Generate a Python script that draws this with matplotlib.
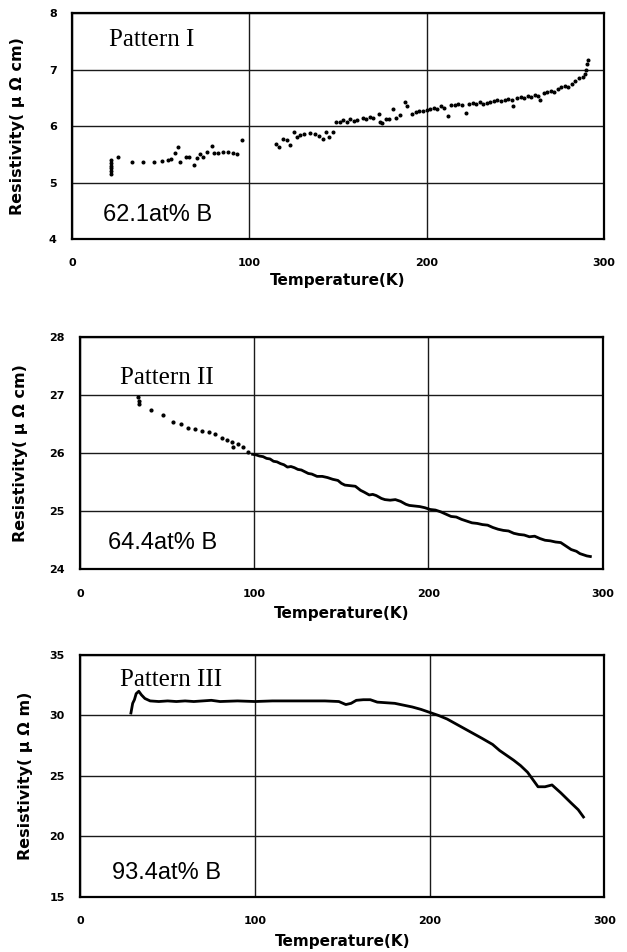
import matplotlib
matplotlib.use("Agg")
import matplotlib.pyplot as plt

# Pattern I : 62.1at% B  (scattered points)
t1 = [22, 22, 22, 22, 22, 22,
      26, 34, 40, 46, 51, 54, 56, 58, 59.5, 61, 64, 66, 69, 70.5, 72, 74, 76, 79, 80,
      82.5, 85, 88, 91, 93, 96,
      115, 117, 119, 121, 123, 125, 127, 128.5, 131, 134, 137, 139.5, 141.5, 143.5, 145,
      147, 149, 151, 153, 155, 157, 159, 161, 164, 166, 168, 170, 173, 174, 175, 177,
      179, 181, 183, 185, 188, 189, 191.5, 194, 196, 198, 200, 202, 204, 206, 208, 210,
      212, 214, 216, 218, 220, 222.5, 224, 226, 228, 230, 232, 234, 236, 238, 240, 242,
      244, 246, 248, 249, 251, 253, 255, 257, 259, 261, 263, 264, 266, 268, 270, 272,
      274, 276, 278, 280, 282, 284, 286, 288, 289.5, 290, 290.5, 291]
r1 = [5.15, 5.2, 5.25, 5.3, 5.35, 5.4,
      5.45, 5.36, 5.36, 5.36, 5.38, 5.40, 5.41, 5.52, 5.63, 5.37, 5.46, 5.46, 5.31, 5.43,
      5.50, 5.46, 5.55, 5.65, 5.52, 5.53, 5.55, 5.54, 5.52, 5.50, 5.75,
      5.69, 5.63, 5.78, 5.75, 5.66, 5.90, 5.81, 5.84, 5.86, 5.87, 5.86, 5.82, 5.78, 5.90,
      5.81, 5.90, 6.08, 6.07, 6.10, 6.08, 6.12, 6.09, 6.10, 6.15, 6.13, 6.16, 6.14, 6.22,
      6.08, 6.05, 6.12, 6.13, 6.30, 6.15, 6.20, 6.43, 6.35, 6.22, 6.25, 6.27, 6.26, 6.28,
      6.30, 6.33, 6.31, 6.35, 6.32, 6.18, 6.38, 6.37, 6.39, 6.38, 6.23, 6.40, 6.41, 6.40,
      6.42, 6.40, 6.41, 6.43, 6.45, 6.46, 6.45, 6.47, 6.48, 6.46, 6.35, 6.50, 6.51, 6.50,
      6.53, 6.52, 6.55, 6.54, 6.47, 6.58, 6.60, 6.62, 6.60, 6.65, 6.70, 6.72, 6.70, 6.75,
      6.80, 6.85, 6.87, 6.92, 7.00, 7.10, 7.18]

# Pattern II : 64.4at% B
t2_sparse = [33, 33.5, 34, 40.6, 47.5, 53.3, 58, 61.7, 66, 70, 73.7, 77.5, 81.3, 84.2,
             87, 88, 90.8, 93.7, 96.6]
r2_sparse = [26.97, 26.9, 26.85, 26.75, 26.66, 26.54, 26.5, 26.43, 26.42, 26.38, 26.37,
             26.33, 26.26, 26.23, 26.19, 26.11, 26.15, 26.10, 26.02]
t2_dense = [99, 101, 103, 105, 107, 109, 111, 113, 115, 117, 119, 121, 123, 125, 127,
            129, 131, 133, 136, 139, 142, 145, 148, 150, 152, 155, 158, 161, 163, 166,
            168, 170, 173, 175, 178, 181, 184, 187, 189, 192, 195, 198, 201, 204, 207,
            210, 213, 216, 219, 222, 225, 228, 231, 234, 237, 240, 243, 246, 249, 252,
            255, 258, 261, 264, 267, 270, 273, 276, 279, 282, 285, 287, 289, 291, 293]
r2_dense = [25.98, 25.97, 25.95, 25.94, 25.91, 25.90, 25.86, 25.85, 25.82, 25.80, 25.76,
            25.77, 25.75, 25.72, 25.71, 25.68, 25.65, 25.64, 25.60, 25.60, 25.58, 25.55,
            25.53, 25.48, 25.45, 25.44, 25.43, 25.36, 25.33, 25.28, 25.29, 25.27, 25.22,
            25.20, 25.19, 25.20, 25.17, 25.12, 25.10, 25.09, 25.08, 25.06, 25.03, 25.02,
            24.99, 24.95, 24.91, 24.90, 24.86, 24.83, 24.80, 24.79, 24.77, 24.76, 24.72,
            24.69, 24.67, 24.66, 24.62, 24.60, 24.59, 24.56, 24.57, 24.53, 24.50, 24.49,
            24.47, 24.46, 24.40, 24.34, 24.31, 24.27, 24.25, 24.23, 24.22]

# Pattern III : 93.4at% B
t3 = [29, 29.5, 30, 31, 32, 33.5, 35, 37, 40, 45, 50, 55, 60, 65, 70, 75, 80, 90, 100,
      110, 120, 130, 140, 148, 152, 155, 158, 162, 166, 170, 175, 180, 185, 190, 195,
      200, 205, 210, 215, 220, 225, 230, 236, 240, 244, 248, 252, 256, 259, 262, 266,
      270, 275, 281, 285, 288]
r3 = [30.2, 30.6, 31.0, 31.3, 31.8, 32.0, 31.7, 31.4, 31.2, 31.15, 31.2, 31.15, 31.2,
      31.15, 31.2, 31.25, 31.15, 31.2, 31.15, 31.2, 31.2, 31.2, 31.2, 31.15, 30.9, 31.0,
      31.25, 31.3, 31.3, 31.1, 31.05, 31.0, 30.85, 30.7, 30.5, 30.25, 30.0, 29.7, 29.3,
      28.9, 28.5, 28.1, 27.6, 27.1, 26.7, 26.3, 25.85, 25.3, 24.7, 24.1, 24.1, 24.25,
      23.6, 22.75, 22.2, 21.6]

xticks = [0, 100, 200, 300]

fig = plt.figure(figsize=(6.27, 9.52), dpi=100)
ax1 = fig.add_axes([0.115, 0.749, 0.848, 0.237])
ax2 = fig.add_axes([0.128, 0.402, 0.833, 0.244])
ax3 = fig.add_axes([0.128, 0.058, 0.836, 0.254])

def style(ax, ylim, yticks, ylabel, ylab_x, xlab_y):
    ax.set_xlim(0, 300)
    ax.set_ylim(*ylim)
    ax.set_xticks(xticks)
    ax.set_yticks(yticks)
    ax.grid(True, color="#1a1a1a", linewidth=1.0)
    ax.set_axisbelow(True)
    for s in ax.spines.values():
        s.set_linewidth(1.6)
    ax.tick_params(length=0, labelsize=8)
    ax.tick_params(axis="x", pad=14)
    ax.tick_params(axis="y", pad=11)
    for lb in ax.get_xticklabels() + ax.get_yticklabels():
        lb.set_fontweight("bold")
    ax.set_ylabel(ylabel, family="DejaVu Sans", weight="bold", fontsize=11.5)
    ax.set_xlabel("Temperature(K)", family="DejaVu Sans", weight="bold", fontsize=11)
    ax.yaxis.set_label_coords(ylab_x, 0.5)
    ax.xaxis.set_label_coords(0.5, xlab_y)

# panel 1
ax1.plot(t1, r1, "o", color="black", markersize=1.9)
style(ax1, (4, 8), [4, 5, 6, 7, 8], "Resistivity( μ Ω cm)", -0.088, -0.15)
ax1.text(21, 7.52, "Pattern I", family="Liberation Serif", fontsize=18, va="center")
ax1.text(17.5, 4.42, "62.1at% B", family="Liberation Sans", fontsize=17, va="center")

# panel 2
ax2.plot(t2_sparse, r2_sparse, "o", color="black", markersize=2.0)
ax2.plot(t2_dense, r2_dense, "-", color="black", linewidth=2.0)
style(ax2, (24, 28), [24, 25, 26, 27, 28], "Resistivity( μ Ω cm)", -0.10, -0.16)
ax2.text(23, 27.3, "Pattern II", family="Liberation Serif", fontsize=18, va="center")
ax2.text(16, 24.45, "64.4at% B", family="Liberation Sans", fontsize=17, va="center")

# panel 3
ax3.plot(t3, r3, "-", color="black", linewidth=2.0)
style(ax3, (15, 35), [15, 20, 25, 30, 35], "Resistivity( μ Ω m)", -0.09, -0.155)
ax3.text(23, 32.9, "Pattern III", family="Liberation Serif", fontsize=18, va="center")
ax3.text(18.3, 17.0, "93.4at% B", family="Liberation Sans", fontsize=17, va="center")

fig.savefig("out.png", dpi=100)
